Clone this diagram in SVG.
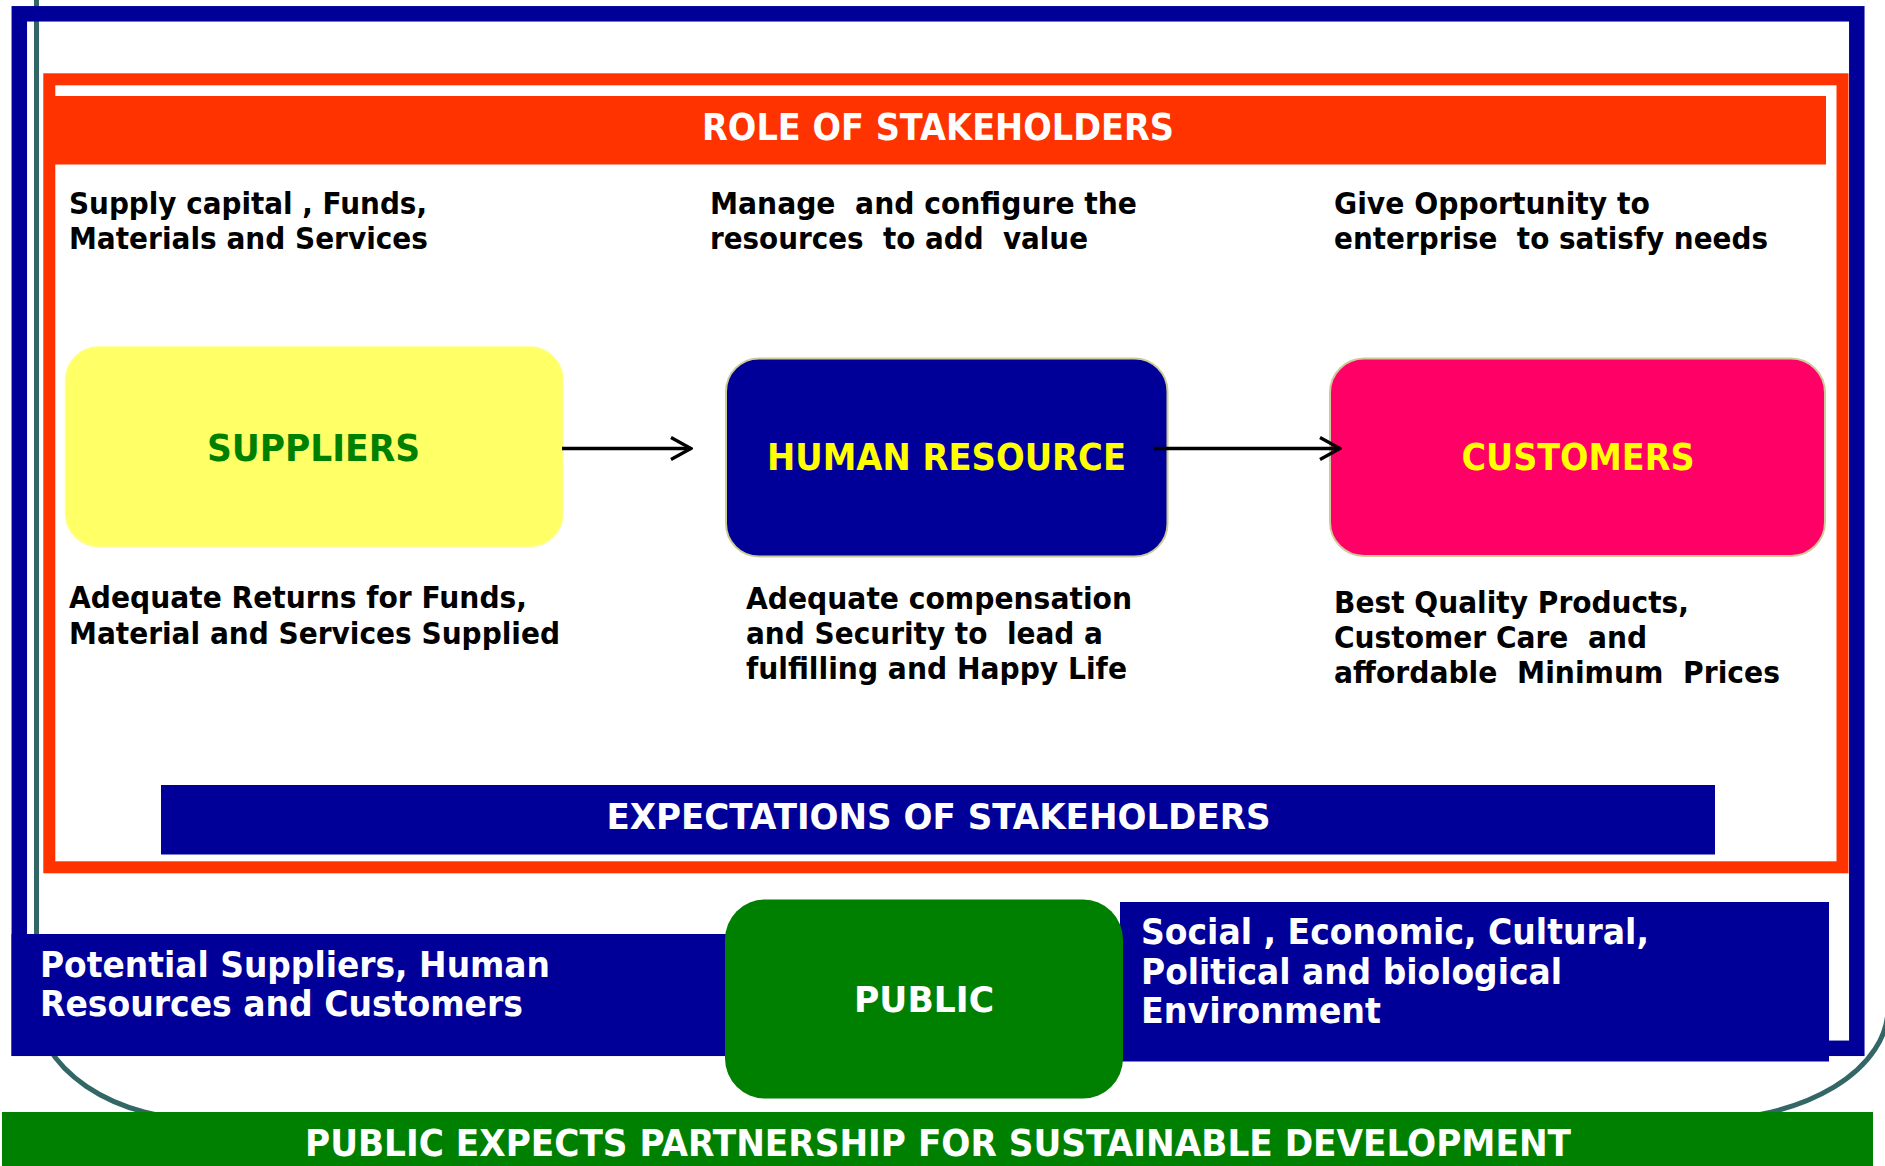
<svg xmlns="http://www.w3.org/2000/svg" width="1885" height="1166" viewBox="0 0 1885 1166">
  <style>
    .t { font-family: "DejaVu Sans", Verdana, sans-serif; font-weight: bold; white-space: pre; }
    .body { font-size: 29.5px; fill: #000000; }
    .band { font-size: 35px; fill: #ffffff; }
    .head { font-size: 38px; fill: #ffffff; text-anchor: middle; }
    .node { font-size: 38px; text-anchor: middle; }
    .box { stroke: #cccc99; stroke-width: 2; }
    .navy { fill: #000099; }
    .red { fill: #ff3300; }
    .green { fill: #008000; }
    .conn { stroke: #000000; stroke-width: 3.3; fill: none; }
  </style>
  <defs>
    <marker id="openArrow" markerUnits="userSpaceOnUse" viewBox="0 0 24 26" refX="22" refY="13" markerWidth="24" markerHeight="26" orient="auto">
      <path d="M2,2 L22,13 L2,24" fill="none" stroke="#000000" stroke-width="3.3"/>
    </marker>
  </defs>

  <rect width="1885" height="1166" fill="#ffffff"/>

  <!-- teal rounded outline behind the frames -->
  <path d="M36.5,-10 V1005 A170,115 0 0 0 206.5,1120 H1703 A185,112 0 0 0 1888,1008 V-10" fill="none" stroke="#336666" stroke-width="5"/>

  <!-- outer navy frame -->
  <rect x="19.3" y="13.8" width="1837.5" height="1034.5" fill="none" stroke="#000099" stroke-width="15.5"/>

  <!-- inner orange frame -->
  <rect x="49.3" y="79.3" width="1793.2" height="788" fill="none" stroke="#ff3300" stroke-width="12"/>

  <!-- title banner -->
  <g id="role-banner">
    <rect class="red" x="55" y="96" width="1771" height="68.5"/>
    <text class="t head" x="938" y="139.5" textLength="472" lengthAdjust="spacingAndGlyphs">ROLE OF STAKEHOLDERS</text>
  </g>

  <!-- roles -->
  <g id="role-suppliers">
    <text class="t body" x="69" y="214" textLength="358" lengthAdjust="spacingAndGlyphs">Supply capital , Funds,</text>
    <text class="t body" x="69" y="249" textLength="359" lengthAdjust="spacingAndGlyphs">Materials and Services</text>
  </g>
  <g id="role-hr">
    <text class="t body" x="710" y="214" textLength="427" lengthAdjust="spacingAndGlyphs">Manage  and configure the</text>
    <text class="t body" x="710" y="249" textLength="378" lengthAdjust="spacingAndGlyphs">resources  to add  value</text>
  </g>
  <g id="role-customers">
    <text class="t body" x="1334" y="214" textLength="316" lengthAdjust="spacingAndGlyphs">Give Opportunity to</text>
    <text class="t body" x="1334" y="249" textLength="434" lengthAdjust="spacingAndGlyphs">enterprise  to satisfy needs</text>
  </g>

  <!-- stakeholder nodes -->
  <g id="suppliers">
    <rect x="65.5" y="347" width="497.5" height="199.5" rx="33" ry="33" fill="#ffff66" stroke="#ffff88" stroke-width="1.5"/>
    <text class="t node" x="313.5" y="461" fill="#008000" textLength="213" lengthAdjust="spacingAndGlyphs">SUPPLIERS</text>
  </g>
  <g id="human-resource">
    <rect class="box" x="726" y="358.5" width="441.5" height="198" rx="33" ry="33" fill="#000099"/>
    <text class="t node" x="946.5" y="470" fill="#ffff00" textLength="359" lengthAdjust="spacingAndGlyphs">HUMAN RESOURCE</text>
  </g>
  <g id="customers">
    <rect class="box" x="1330" y="358.5" width="495" height="197.5" rx="34" ry="34" fill="#ff0066"/>
    <text class="t node" x="1578" y="470" fill="#ffff00" textLength="233" lengthAdjust="spacingAndGlyphs">CUSTOMERS</text>
  </g>

  <!-- connectors -->
  <g id="connectors">
    <line class="conn" x1="562" y1="448.5" x2="691" y2="448.5" marker-end="url(#openArrow)"/>
    <line class="conn" x1="1154" y1="448.5" x2="1340" y2="448.5" marker-end="url(#openArrow)"/>
  </g>

  <!-- expectations -->
  <g id="expect-suppliers">
    <text class="t body" x="69" y="608" textLength="458" lengthAdjust="spacingAndGlyphs">Adequate Returns for Funds,</text>
    <text class="t body" x="69" y="643.5" textLength="491" lengthAdjust="spacingAndGlyphs">Material and Services Supplied</text>
  </g>
  <g id="expect-hr">
    <text class="t body" x="746" y="608.5" textLength="386" lengthAdjust="spacingAndGlyphs">Adequate compensation</text>
    <text class="t body" x="746" y="643.5" textLength="357" lengthAdjust="spacingAndGlyphs">and Security to  lead a</text>
    <text class="t body" x="746" y="678.5" textLength="381" lengthAdjust="spacingAndGlyphs">fulfilling and Happy Life</text>
  </g>
  <g id="expect-customers">
    <text class="t body" x="1334" y="613" textLength="355" lengthAdjust="spacingAndGlyphs">Best Quality Products,</text>
    <text class="t body" x="1334" y="648" textLength="313" lengthAdjust="spacingAndGlyphs">Customer Care  and</text>
    <text class="t body" x="1334" y="682.5" textLength="446" lengthAdjust="spacingAndGlyphs">affordable  Minimum  Prices</text>
  </g>

  <g id="expectations-banner">
    <rect class="navy" x="161" y="785" width="1554" height="69.5"/>
    <text class="t head" x="938.5" y="829" style="font-size:36px" textLength="664" lengthAdjust="spacingAndGlyphs">EXPECTATIONS OF STAKEHOLDERS</text>
  </g>

  <!-- public and its surroundings -->
  <g id="potential">
    <rect class="navy" x="11.5" y="934" width="716" height="122"/>
    <text class="t band" x="40" y="977" textLength="510" lengthAdjust="spacingAndGlyphs">Potential Suppliers, Human</text>
    <text class="t band" x="40" y="1016" textLength="483" lengthAdjust="spacingAndGlyphs">Resources and Customers</text>
  </g>
  <g id="environment">
    <rect class="navy" x="1120" y="902" width="709" height="159.5"/>
    <text class="t band" x="1141" y="944" textLength="508" lengthAdjust="spacingAndGlyphs">Social , Economic, Cultural,</text>
    <text class="t band" x="1141" y="983.5" textLength="421" lengthAdjust="spacingAndGlyphs">Political and biological</text>
    <text class="t band" x="1141" y="1023" textLength="240" lengthAdjust="spacingAndGlyphs">Environment</text>
  </g>
  <g id="public">
    <rect class="green" x="725" y="899.5" width="398" height="199" rx="40" ry="40"/>
    <text class="t node" x="924" y="1012" fill="#ffffff" style="font-size:36px" textLength="140" lengthAdjust="spacingAndGlyphs">PUBLIC</text>
  </g>

  <g id="partnership-banner">
    <rect class="green" x="2" y="1112" width="1871" height="54"/>
    <text class="t head" x="938" y="1156" style="font-size:37px" textLength="1266" lengthAdjust="spacingAndGlyphs">PUBLIC EXPECTS PARTNERSHIP FOR SUSTAINABLE DEVELOPMENT</text>
  </g>
</svg>
